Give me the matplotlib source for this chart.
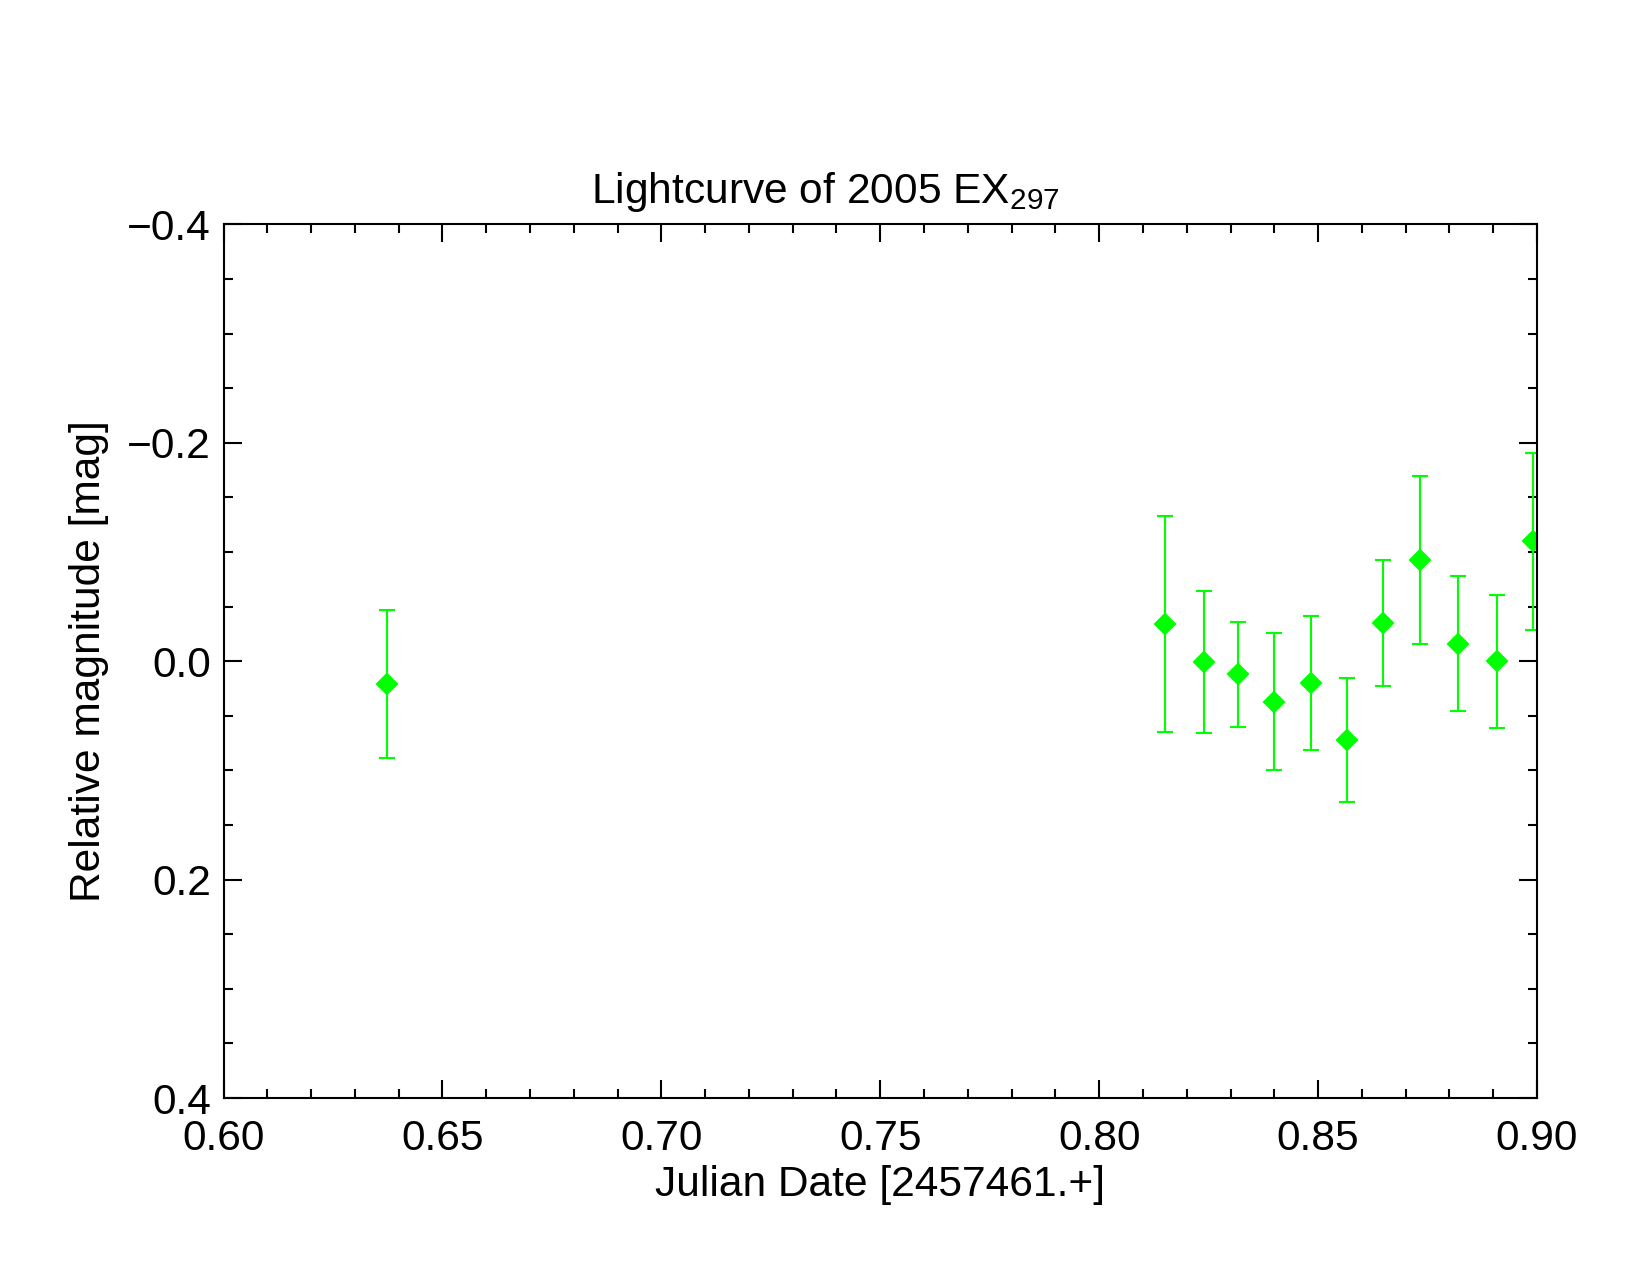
import matplotlib
matplotlib.use("Agg")
import matplotlib.pyplot as plt
from matplotlib.ticker import MultipleLocator, FuncFormatter

# Julian date offsets and relative magnitudes
jd = [0.6373, 0.8151, 0.8239, 0.8317, 0.8400, 0.8483, 0.8566,
      0.8649, 0.8732, 0.8820, 0.8908, 0.8991]
mag = [0.021, -0.034, 0.001, 0.012, 0.037, 0.020, 0.072,
       -0.035, -0.093, -0.016, 0.000, -0.110]
mag_err = [0.068, 0.099, 0.065, 0.048, 0.063, 0.061, 0.057,
           0.058, 0.077, 0.062, 0.061, 0.081]

plt.rcParams["font.family"] = ["Liberation Sans", "DejaVu Sans"]
plt.rcParams["mathtext.fontset"] = "custom"
plt.rcParams["mathtext.rm"] = "Liberation Sans"
plt.rcParams["mathtext.it"] = "Liberation Sans"
plt.rcParams["mathtext.default"] = "regular"

fs = 20.4

fig = plt.figure(figsize=(11, 8.5), dpi=150)
ax = fig.add_axes([0.1355, 0.1388, 0.796, 0.6852])

ax.errorbar(jd, mag, yerr=mag_err, fmt="D", color="#00ff00", ms=6.5,
            mec="#00ff00", elinewidth=1.0, capsize=3.8, capthick=1.0)

ax.set_xlim(0.60, 0.90)
ax.set_ylim(0.4, -0.4)

ax.xaxis.set_major_locator(MultipleLocator(0.05))
ax.xaxis.set_minor_locator(MultipleLocator(0.01))
ax.yaxis.set_major_locator(MultipleLocator(0.2))
ax.yaxis.set_minor_locator(MultipleLocator(0.05))
ax.xaxis.set_major_formatter(FuncFormatter(lambda v, p: f"{v:.2f}"))
ax.yaxis.set_major_formatter(
    FuncFormatter(lambda v, p: f"{v:.1f}".replace("-", "\u2212") if abs(v) > 1e-9 else "0.0"))

ax.tick_params(which="both", direction="in", top=True, right=True, width=1.0)
ax.tick_params(which="major", length=8.5, labelsize=fs)
ax.tick_params(which="minor", length=4.2)
ax.tick_params(axis="x", which="major", pad=10)
ax.tick_params(axis="y", which="major", pad=6)
for sp in ax.spines.values():
    sp.set_linewidth(1.0)

ax.set_xlabel("Julian Date [2457461.+]", fontsize=fs, labelpad=3)
ax.set_ylabel("Relative magnitude [mag]", fontsize=fs, labelpad=9)
ax.text(0.458, 1.012, "Lightcurve of 2005 EX$_{297}$", transform=ax.transAxes,
        ha="center", va="bottom", fontsize=fs)

fig.savefig("out.png", dpi=150)
